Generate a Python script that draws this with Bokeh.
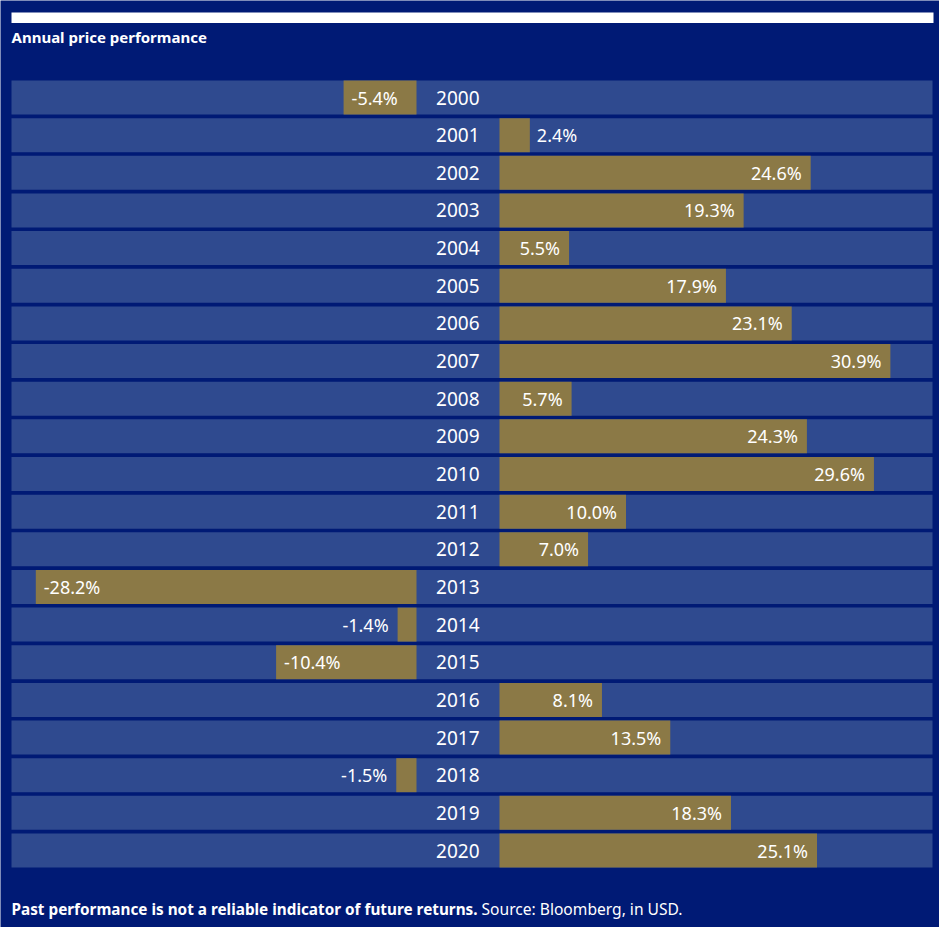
from bokeh.plotting import figure
from bokeh.models import Range1d, ColumnDataSource
from bokeh.core.properties import value
from bokeh.embed import file_html
from bokeh.resources import INLINE

# ---- data ----
years = ["2000", "2001", "2002", "2003", "2004", "2005", "2006", "2007", "2008", "2009",
         "2010", "2011", "2012", "2013", "2014", "2015", "2016", "2017", "2018", "2019", "2020"]
returns = [-5.4, 2.4, 24.6, 19.3, 5.5, 17.9, 23.1, 30.9, 5.7, 24.3,
           29.6, 10.0, 7.0, -28.2, -1.4, -10.4, 8.1, 13.5, -1.5, 18.3, 25.1]
title_text = "Annual price performance"
note_bold = "Past performance is not a reliable indicator of future returns."
note_regular = "Source: Bloomberg, in USD."

# ---- style / layout ----
W, H = 939, 927
BG = "#001a75"
BAND = "#2f4a8f"
GOLD = "#8b7946"
WHITE = "#ffffff"
FONT = "Noto Sans"

band_left, band_right = 11, 932
neg_zero_px, neg_scale = 416.0, 13.5
pos_zero_px, pos_scale = 499.0, 12.65
row0_center, row_pitch, band_h = 97.0, 37.65, 34.0
inside_min = 4.0

p = figure(width=W, height=H, x_range=Range1d(0, W), y_range=Range1d(H, 0),
           output_backend="svg", toolbar_location=None,
           x_axis_type=None, y_axis_type=None, min_border=0, title=None)
p.background_fill_color = BG
p.border_fill_color = BG
p.outline_line_color = None

p.extra_x_ranges = {
    "neg": Range1d(-neg_zero_px / neg_scale, (W - neg_zero_px) / neg_scale),
    "pos": Range1d(-pos_zero_px / pos_scale, (W - pos_zero_px) / pos_scale),
}
p.extra_y_ranges = {"row": Range1d((H - row0_center) / row_pitch, -row0_center / row_pitch)}

idx = list(range(len(years)))
labels = [f"{v:.1f}%" for v in returns]

# top white rule
p.quad(left=[11], right=[933], top=[12], bottom=[22.5], fill_color=WHITE, line_color=None)

# title
p.text(x=[11], y=[36], text=[title_text], text_font=value(FONT), text_font_size="15px",
       text_font_style="bold", text_color=WHITE, text_align="left", text_baseline="middle")

# row bands
hb = band_h / row_pitch
p.hbar(y=idx, left=band_left, right=band_right, height=hb, fill_color=BAND, line_color=None,
       y_range_name="row")

def sub(cond):
    rows = [i for i in idx if cond(returns[i])]
    return ColumnDataSource(dict(y=rows, v=[returns[i] for i in rows],
                                 lab=[labels[i] for i in rows]))

neg = sub(lambda v: v < 0)
pos = sub(lambda v: v >= 0)
p.hbar(y="y", left="v", right=0, height=hb, source=neg, fill_color=GOLD, line_color=None,
       x_range_name="neg", y_range_name="row")
p.hbar(y="y", left=0, right="v", height=hb, source=pos, fill_color=GOLD, line_color=None,
       x_range_name="pos", y_range_name="row")

# year labels
p.text(x=[479] * len(years), y=idx, text=years, text_font=value(FONT), text_font_size="19px",
       text_color=WHITE, text_align="right", text_baseline="middle", y_range_name="row")

common = dict(text="lab", text_font=value(FONT), text_font_size="18px", text_color=WHITE,
              text_baseline="middle", y_range_name="row")
p.text(x="v", y="y", source=sub(lambda v: v >= inside_min), text_align="right", x_offset=-9,
       x_range_name="pos", **common)
p.text(x="v", y="y", source=sub(lambda v: 0 <= v < inside_min), text_align="left", x_offset=7,
       x_range_name="pos", **common)
p.text(x="v", y="y", source=sub(lambda v: v <= -inside_min), text_align="left", x_offset=8,
       x_range_name="neg", **common)
p.text(x="v", y="y", source=sub(lambda v: -inside_min < v < 0), text_align="right", x_offset=-9,
       x_range_name="neg", **common)

# footnote
p.text(x=[11], y=[908], text=[note_bold], text_font=value(FONT), text_font_size="15.3px",
       text_font_style="bold", text_color=WHITE, text_align="left", text_baseline="middle")
p.text(x=[481], y=[908], text=[note_regular], text_font=value(FONT), text_font_size="15.6px",
       text_color=WHITE, text_align="left", text_baseline="middle")

open("out.html", "w").write(file_html(p, INLINE))
